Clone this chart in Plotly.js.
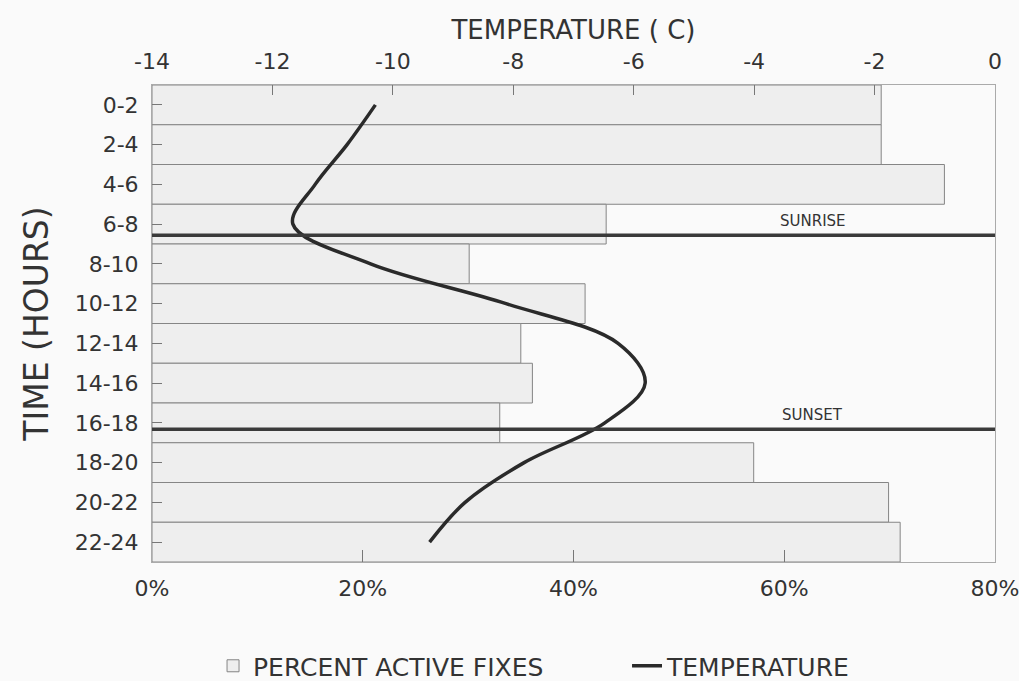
<!DOCTYPE html>
<html><head><meta charset="utf-8">
<script src="https://cdn.plot.ly/plotly-3.0.1.min.js"></script>
<style>html,body{margin:0;padding:0;background:#fafafa}</style>
</head><body><div id="chart" style="width:1019px;height:681px"></div>
<script>
const hours = ['0-2','2-4','4-6','6-8','8-10','10-12','12-14','14-16','16-18','18-20','20-22','22-24'];
const percentActive = [69.2, 69.2, 75.2, 43.1, 30.1, 41.1, 35.0, 36.1, 33.0, 57.1, 69.9, 71.0];
const temperature = [-10.29, -10.76, -11.29, -11.66, -10.37, -8.12, -6.26, -5.81, -6.48, -7.82, -8.80, -9.39];
const eventNames = ['SUNRISE', 'SUNSET'];
const eventHours = [7.56, 17.32];
const xTicksPct = [0, 20, 40, 60, 80];
const xTickLabelsPct = ['0%', '20%', '40%', '60%', '80%'];
const xTicksTemp = [-14, -12, -10, -8, -6, -4, -2, 0];
const xTickLabelsTemp = ['-14', '-12', '-10', '-8', '-6', '-4', '-2', '0'];

const FONT = 'DejaVu Sans, Liberation Sans, Arial, sans-serif';
const TXT = '#333333';

// hour -> category index (category i spans hours 2i..2i+2, centred at 2i+1)
const eventIdx = eventHours.map(h => (h - 1) / 2);

const traces = [
  {
    type: 'bar', orientation: 'h', name: 'PERCENT ACTIVE FIXES',
    y: hours, x: percentActive, xaxis: 'x', yaxis: 'y', legend: 'legend',
    marker: {color: '#eeeeee', line: {color: '#858585', width: 1}}
  },
  {
    type: 'scatter', mode: 'lines', name: 'TEMPERATURE',
    y: hours, x: temperature, xaxis: 'x2', yaxis: 'y', legend: 'legend2',
    line: {color: '#2a2a2a', width: 3.5, shape: 'spline', smoothing: 1}
  }
];

const shapes = eventIdx.map(v => ({
  type: 'line', xref: 'paper', yref: 'y', x0: 0, x1: 1, y0: v, y1: v,
  line: {color: '#3a3a3a', width: 3.5}
}));

const annotations = eventIdx.map((v, i) => ({
  text: eventNames[i], xref: 'paper', yref: 'y', x: 0.784, y: v,
  yshift: 14, showarrow: false, xanchor: 'center', yanchor: 'middle',
  font: {family: FONT, size: 15, color: TXT}
}));

const legendCommon = {
  orientation: 'h', yref: 'container', y: 0.022, xanchor: 'left', yanchor: 'middle',
  font: {family: FONT, size: 25, color: TXT}, bgcolor: 'rgba(0,0,0,0)'
};

const layout = {
  width: 1019, height: 681,
  margin: {l: 152, r: 24, t: 85, b: 119},
  paper_bgcolor: '#fafafa', plot_bgcolor: '#fafafa',
  bargap: 0,
  showlegend: true,
  legend: Object.assign({x: 0.0724}, legendCommon),
  legend2: Object.assign({x: 0.5635}, legendCommon),
  xaxis: {
    range: [0, 80], tickmode: 'array', tickvals: xTicksPct, ticktext: xTickLabelsPct,
    ticks: 'inside', ticklen: 12, tickcolor: '#777', tickwidth: 1,
    showline: true, linecolor: '#aaaaaa', linewidth: 1,
    showgrid: false, zeroline: false, ticklabelstandoff: 7, ticklabeloverflow: 'allow',
    tickfont: {family: FONT, size: 22, color: TXT}
  },
  xaxis2: {
    overlaying: 'x', side: 'top', range: [-14, 0],
    tickmode: 'array', tickvals: xTicksTemp, ticktext: xTickLabelsTemp,
    ticks: 'inside', ticklen: 10, tickcolor: '#777', tickwidth: 1,
    showline: true, linecolor: '#aaaaaa', linewidth: 1,
    showgrid: false, zeroline: false, ticklabelstandoff: 6, ticklabeloverflow: 'allow',
    tickfont: {family: FONT, size: 22, color: TXT},
    title: {text: 'TEMPERATURE ( C)', font: {family: FONT, size: 26, color: TXT}, standoff: 2}
  },
  yaxis: {
    type: 'category', categoryarray: hours, categoryorder: 'array',
    range: [11.5, -0.5],
    ticks: 'inside', ticklen: 10, tickcolor: '#777', tickwidth: 1,
    showline: true, linecolor: '#aaaaaa', linewidth: 1, mirror: true,
    showgrid: false, zeroline: false, ticklabelstandoff: 8,
    tickfont: {family: FONT, size: 22, color: TXT},
    title: {text: 'TIME (HOURS)', font: {family: FONT, size: 33, color: TXT}, standoff: 16}
  },
  shapes: shapes,
  annotations: annotations
};

Plotly.newPlot('chart', traces, layout, {displayModeBar: false, staticPlot: true});
</script>
</body></html>
